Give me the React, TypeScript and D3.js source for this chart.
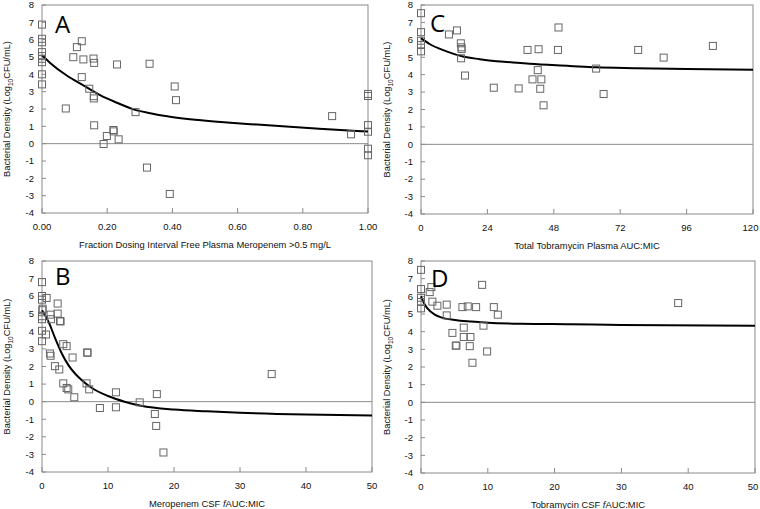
import React from "react";
import * as d3 from "d3";

// ---------- DATA ----------
const yTickValues = [-4, -3, -2, -1, 0, 1, 2, 3, 4, 5, 6, 7, 8];

// Panel A: fraction of dosing interval free plasma meropenem > 0.5 mg/L
const aPointX = [0, 0, 0, 0, 0, 0, 0, 0, 0, 0.073, 0.096, 0.107, 0.122, 0.127, 0.122, 0.145, 0.158, 0.16, 0.159, 0.159, 0.16, 0.189, 0.199, 0.219, 0.22, 0.235, 0.23, 0.287, 0.33, 0.322, 0.392, 0.407, 0.411, 0.89, 0.948, 1.0, 1.0, 1.0, 1.0, 1.0, 1.0];
const aPointY = [6.87, 6.05, 5.85, 5.28, 5.05, 4.9, 4.7, 4.0, 3.42, 2.03, 4.99, 5.57, 5.91, 4.86, 3.84, 3.17, 4.91, 4.66, 2.74, 2.61, 1.06, -0.02, 0.44, 0.79, 0.71, 0.25, 4.57, 1.82, 4.61, -1.38, -2.9, 3.3, 2.51, 1.59, 0.54, 2.87, 2.75, 1.07, 0.69, -0.29, -0.67];
const aCurveX = [0, 0.025, 0.076, 0.127, 0.178, 0.23, 0.281, 0.332, 0.384, 0.454, 0.558, 0.66, 0.76, 0.864, 1.0];
const aCurveY = [5.1, 4.66, 3.93, 3.36, 2.8, 2.36, 1.98, 1.76, 1.58, 1.41, 1.24, 1.1, 0.97, 0.85, 0.7];
const aXTicks = [0, 0.2, 0.4, 0.6, 0.8, 1.0];

// Panel C: total tobramycin plasma AUC:MIC
const cPointX = [0, 0, 0, 0, 0, 10.1, 13.0, 14.4, 14.6, 14.7, 14.5, 15.9, 26.3, 35.3, 38.5, 42.5, 40.3, 42.2, 43.5, 43.1, 44.3, 49.7, 49.5, 63.3, 66.0, 78.5, 87.7, 105.5];
const cPointY = [7.53, 6.44, 5.95, 5.7, 5.34, 6.31, 6.54, 5.8, 5.57, 5.47, 4.94, 3.95, 3.25, 3.21, 5.42, 5.46, 3.73, 4.26, 3.73, 3.19, 2.24, 6.71, 5.42, 4.35, 2.89, 5.42, 4.98, 5.65];
const cCurveX = [0, 3.1, 9.2, 15.2, 21.2, 27.3, 33.3, 39.3, 53.8, 63.3, 77.9, 96, 120];
const cCurveY = [6.1, 5.76, 5.34, 5.04, 4.89, 4.77, 4.7, 4.62, 4.5, 4.42, 4.37, 4.32, 4.28];
const cXTicks = [0, 24, 48, 72, 96, 120];

// Panel B: meropenem CSF fAUC:MIC
const bPointX = [0, 0, 0, 0.1, 0.05, 0, 0, 0, 0, 0.7, 0.6, 1.3, 1.36, 1.2, 1.3, 1.96, 2.37, 2.37, 2.62, 2.72, 2.82, 3.22, 3.73, 3.22, 3.73, 3.98, 4.63, 4.89, 6.85, 6.9, 6.75, 7.15, 8.77, 11.2, 11.2, 14.8, 17.1, 17.4, 17.3, 18.4, 34.8];
const bPointY = [6.8, 6.01, 5.8, 5.29, 5.2, 4.86, 4.69, 4.03, 3.44, 5.9, 3.82, 4.95, 4.69, 2.74, 2.61, 2.02, 5.58, 5.01, 1.83, 4.59, 4.56, 3.27, 3.16, 1.04, 0.78, 0.7, 2.51, 0.25, 2.8, 2.78, 1.04, 0.7, -0.36, 0.53, -0.32, -0.04, -0.7, 0.43, -1.38, -2.89, 1.57];
const bCurveX = [0, 1, 2, 3, 4, 5, 6, 7.5, 10, 12.5, 15, 20, 25, 30, 40, 50];
const bCurveY = [5.2, 4.54, 3.6, 2.74, 2.08, 1.6, 1.23, 0.79, 0.32, 0.0, -0.23, -0.45, -0.55, -0.63, -0.73, -0.79];
const bXTicks = [0, 10, 20, 30, 40, 50];

// Panel D: tobramycin CSF fAUC:MIC
const dPointX = [0, 0, 0, 0, 0, 1.55, 1.3, 1.7, 2.45, 3.85, 3.85, 4.7, 5.2, 5.3, 6.2, 7.0, 6.4, 6.4, 7.4, 7.3, 7.7, 8.25, 9.15, 9.35, 9.9, 10.9, 11.5, 38.5];
const dPointY = [7.5, 6.41, 5.92, 5.68, 5.32, 6.52, 6.24, 5.7, 5.47, 5.53, 4.92, 3.93, 3.21, 3.21, 5.39, 5.43, 4.23, 3.7, 3.7, 3.18, 2.24, 5.39, 6.65, 4.34, 2.88, 5.39, 4.96, 5.62];
const dCurveX = [0, 0.5, 1, 2, 3, 5, 7.5, 10, 15, 22.3, 30, 50];
const dCurveY = [6.0, 5.58, 5.3, 4.98, 4.81, 4.66, 4.57, 4.51, 4.45, 4.42, 4.38, 4.34];
const dXTicks = [0, 10, 20, 30, 40, 50];

// ---------- LAYOUT / STYLE ----------
const FONT = "'Liberation Sans', Arial, sans-serif";
const BOX = "#8a8a8a";
const MARK = "#666";

type PanelProps = {
  px: number[]; py: number[]; cx: number[]; cy: number[];
  xTicks: number[]; fmt: (v: number) => string;
  l: number; r: number; t: number; b: number;
  letter: string; letterDx: number; letterDy: number;
  xTitle: React.ReactNode; yTitleX: number; maxLabelX?: number;
};

function Panel(p: PanelProps) {
  const x = d3.scaleLinear().domain([p.xTicks[0], p.xTicks[p.xTicks.length - 1]]).range([p.l, p.r]);
  const y = d3.scaleLinear().domain([-4, 8]).range([p.b, p.t]);
  const line = d3.line<number>()
    .x((_, i) => x(p.cx[i]))
    .y((d) => y(d))
    .curve(d3.curveMonotoneX);
  const yMid = (p.t + p.b) / 2;
  const maxLX = p.maxLabelX ?? Infinity;
  return (
    <g fontFamily={FONT}>
      <rect x={p.l} y={p.t} width={p.r - p.l} height={p.b - p.t} fill="none" stroke={BOX} strokeWidth={1} />
      <line x1={p.l} x2={p.r} y1={y(0)} y2={y(0)} stroke={BOX} strokeWidth={1} />
      {yTickValues.map((v) => (
        <g key={"y" + v}>
          <line x1={p.l} x2={p.l + 4} y1={y(v)} y2={y(v)} stroke={BOX} />
          <text x={p.l - 8} y={y(v)} dy="0.35em" textAnchor="end" fontSize={9.5} fill="#111">{v}</text>
        </g>
      ))}
      {p.xTicks.map((v) => (
        <g key={"x" + v}>
          <line x1={x(v)} x2={x(v)} y1={p.b} y2={p.b - 5} stroke={BOX} />
          <text x={Math.min(x(v), maxLX)} y={p.b + 17} textAnchor="middle" fontSize={9.5} fill="#111">{p.fmt(v)}</text>
        </g>
      ))}
      <text x={(p.l + p.r) / 2} y={p.b + 35} textAnchor="middle" fontSize={9.4} fill="#111">{p.xTitle}</text>
      <text transform={`translate(${p.yTitleX},${yMid}) rotate(-90)`} textAnchor="middle" fontSize={9.3} fill="#111">
        Bacterial Density (Log<tspan fontSize={6.5} dy={3}>10</tspan><tspan dy={-3}>CFU/mL)</tspan>
      </text>
      <path d={line(p.cy) || ""} fill="none" stroke="#000" strokeWidth={2} />
      {p.px.map((v, i) => (
        <rect key={"p" + i} x={x(v) - 3.5} y={y(p.py[i]) - 3.5} width={7} height={7} fill="none" stroke={MARK} strokeWidth={1} />
      ))}
      <text x={p.l + p.letterDx} y={p.t + p.letterDy} fontFamily="'Open Sans', 'Noto Sans', sans-serif" fontSize={24} fill="#000">{p.letter}</text>
    </g>
  );
}

export default function App() {
  const f2 = (v: number) => v.toFixed(2);
  const f0 = (v: number) => String(v);
  return (
    <div style={{ position: "fixed", left: 0, top: 0 }}>
      <svg width={760} height={509} style={{ display: "block", background: "#fff" }}>
        <Panel px={aPointX} py={aPointY} cx={aCurveX} cy={aCurveY} xTicks={aXTicks} fmt={f2}
          l={42} r={368} t={5} b={213} letter="A" letterDx={13} letterDy={28} yTitleX={9.5}
          xTitle="Fraction Dosing Interval Free Plasma Meropenem >0.5 mg/L" />
        <Panel px={cPointX} py={cPointY} cx={cCurveX} cy={cCurveY} xTicks={cXTicks} fmt={f0}
          l={421} r={753} t={5} b={214} letter="C" letterDx={9} letterDy={27} yTitleX={389.5} maxLabelX={750.5}
          xTitle="Total Tobramycin Plasma AUC:MIC" />
        <Panel px={bPointX} py={bPointY} cx={bCurveX} cy={bCurveY} xTicks={bXTicks} fmt={f0}
          l={42} r={372} t={261} b={472} letter="B" letterDx={13} letterDy={24} yTitleX={9.5}
          xTitle={<><tspan>Meropenem CSF </tspan><tspan fontStyle="italic">f</tspan><tspan>AUC:MIC</tspan></>} />
        <Panel px={dPointX} py={dPointY} cx={dCurveX} cy={dCurveY} xTicks={dXTicks} fmt={f0}
          l={421} r={755} t={261} b={473} letter="D" letterDx={10} letterDy={26} yTitleX={389.5} maxLabelX={753}
          xTitle={<><tspan>Tobramycin CSF </tspan><tspan fontStyle="italic">f</tspan><tspan>AUC:MIC</tspan></>} />
      </svg>
    </div>
  );
}
